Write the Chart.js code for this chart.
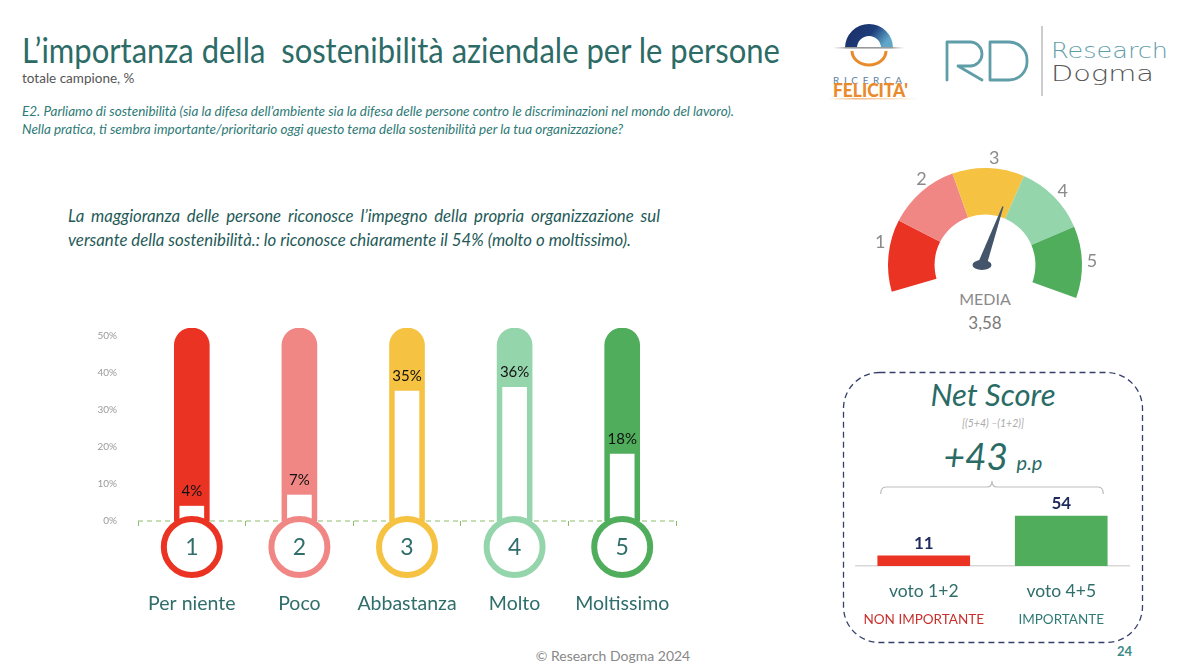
<!DOCTYPE html>
<html lang="it">
<head>
<meta charset="utf-8">
<title>L'importanza della sostenibilità aziendale per le persone</title>
<script src="https://cdn.jsdelivr.net/npm/chart.js@4.4.1/dist/chart.umd.min.js"></script>
<style>
  html, body { margin: 0; padding: 0; background: #fff; }
  body { width: 1200px; height: 670px; position: relative; overflow: hidden; font-family: Lato, 'Open Sans', sans-serif; }
  .t { position: absolute; white-space: nowrap; line-height: 1; }
  .c { text-align: center; }
  canvas { position: absolute; }
  #decor { position: absolute; left: 0; top: 0; }
</style>
</head>
<body>

<svg id="decor" width="1200" height="670" viewBox="0 0 1200 670">
  <defs>
    <linearGradient id="arco" x1="0" y1="0" x2="1" y2="0.4">
      <stop offset="0" stop-color="#1b2a63"/>
      <stop offset="0.6" stop-color="#1d3d7a"/>
      <stop offset="1" stop-color="#5fa6c9"/>
    </linearGradient>
    <linearGradient id="linea" x1="0" y1="0" x2="1" y2="0">
      <stop offset="0" stop-color="#bbb" stop-opacity="0"/>
      <stop offset="0.2" stop-color="#999"/>
      <stop offset="0.8" stop-color="#999"/>
      <stop offset="1" stop-color="#bbb" stop-opacity="0"/>
    </linearGradient>
    <linearGradient id="sotto" x1="0" y1="0" x2="1" y2="0">
      <stop offset="0" stop-color="#e98a2b" stop-opacity="0"/>
      <stop offset="0.3" stop-color="#e98a2b" stop-opacity="0.6"/>
      <stop offset="1" stop-color="#e98a2b" stop-opacity="0"/>
    </linearGradient>
  </defs>
  <!-- logo Ricerca Felicità -->
  <path d="M845,48 A24,24 0 0 1 893,48 L881,48 A12,12 0 0 0 857,48 Z" fill="url(#arco)"/>
  <rect x="833" y="47" width="72" height="1.6" fill="url(#linea)"/>
  <path d="M852,51 A17,14 0 0 0 886,51" fill="none" stroke="#e98a2b" stroke-width="3"/>
  <text x="833" y="84" font-family="Lato" font-size="10" fill="#5b7e9e" textLength="69" lengthAdjust="spacing">RICERCA</text>
  <text x="833" y="97" font-family="Lato" font-weight="900" font-size="18" fill="#e98a2b" textLength="75" lengthAdjust="spacingAndGlyphs">FELICITA'</text>
  <rect x="828" y="98" width="92" height="1.5" fill="url(#sotto)"/>
  <!-- logo Research Dogma -->
  <path d="M947,80 V42 H970 A12,12 0 0 1 982,54 A12,12 0 0 1 970,66 H958 L982,80" fill="none" stroke="#5f9ea8" stroke-width="2.8" stroke-linejoin="round" stroke-linecap="round"/>
  <path d="M990,42 H1009 A18,18 0 0 1 1027,60 V62 A18,18 0 0 1 1009,80 H990 Z" fill="none" stroke="#5f9ea8" stroke-width="2.8" stroke-linejoin="round"/>
  <line x1="1042" y1="26" x2="1042" y2="96" stroke="#9a9a9a" stroke-width="1"/>
  <text x="1051" y="58" font-family="DejaVu Sans" font-weight="200" font-size="22" fill="#5f9ea8" textLength="117" lengthAdjust="spacingAndGlyphs">Research</text>
  <text x="1051" y="81" font-family="DejaVu Sans" font-weight="200" font-size="22" fill="#555" textLength="103" lengthAdjust="spacingAndGlyphs">Dogma</text>
  <!-- riquadro Net Score -->
  <rect x="843.5" y="372.5" width="299" height="270" rx="36" fill="none" stroke="#34406a" stroke-width="1.3" stroke-dasharray="6 4"/>
</svg>

<div class="t" style="left:22px; top:32px; font-size:35px; color:#2d6b67; transform:scaleX(0.885); transform-origin:0 0;">L’importanza della&nbsp; sostenibilità aziendale per le persone</div>
<div class="t" style="left:22px; top:72px; font-size:13.5px; color:#555;">totale campione, %</div>
<div class="t" style="left:22px; top:105px; font-size:13.5px; font-style:italic; color:#2e7a76;">E2. Parliamo di sostenibilità (sia la difesa dell’ambiente sia la difesa delle persone contro le discriminazioni nel mondo del lavoro).</div>
<div class="t" style="left:22px; top:123px; font-size:13.5px; font-style:italic; color:#2e7a76;">Nella pratica, ti sembra importante/prioritario oggi questo tema della sostenibilità per la tua organizzazione?</div>
<div class="t" style="left:68px; top:208px; width:592px; font-size:16.8px; font-style:italic; color:#1f5a58; text-align:justify; text-align-last:justify; white-space:normal;">La maggioranza delle persone riconosce l’impegno della propria organizzazione sul</div>
<div class="t" style="left:68px; top:232px; font-size:16.8px; font-style:italic; color:#1f5a58;">versante della sostenibilità.: lo riconosce chiaramente il 54% (molto o moltissimo).</div>

<div class="t c" style="left:885px; width:200px; top:291px; font-size:16px; color:#8a8a8a;">MEDIA</div>
<div class="t c" id="mediaTxt" style="left:885px; width:200px; top:314px; font-size:17px; color:#7a7a7a;"></div>

<div class="t c" style="left:843px; width:300px; top:379px; font-size:31px; font-style:italic; color:#2a6b66;">Net Score</div>
<div class="t c" style="left:843px; width:300px; top:418px; font-size:10.5px; font-style:italic; color:#aaa;">[(5+4) –(1+2)]</div>
<div class="t c" style="left:843px; width:300px; top:437px; font-size:37px; font-style:italic; color:#2a6b66;"><span id="netTxt"></span> <span style="font-size:20px;">p.p</span></div>

<div class="t c" style="left:463px; width:300px; top:649px; font-size:14px; color:#888;">© Research Dogma 2024</div>
<div class="t" style="left:1117px; top:645px; font-size:13px; font-weight:bold; color:#3b8a86;">24</div>

<canvas id="termometri" width="700" height="340" style="left:0; top:300px; width:700px; height:340px;"></canvas>
<canvas id="gauge" width="240" height="180" style="left:865px; top:143px; width:240px; height:180px;"></canvas>
<canvas id="netScore" width="275" height="174" style="left:855px; top:466px; width:275px; height:174px;"></canvas>

<script>
// dati
const categorie = ['Per niente', 'Poco', 'Abbastanza', 'Molto', 'Moltissimo'];
const voti = ['1', '2', '3', '4', '5'];
const valori = [4, 7, 35, 36, 18];
const tickY = [0, 10, 20, 30, 40, 50];
const colori = ['#ea3323', '#f08784', '#f5c242', '#95d5ac', '#4fad5b'];
const media = 3.58;
const netCategorie = ['voto 1+2', 'voto 4+5'];
const netEtichette = ['NON IMPORTANTE', 'IMPORTANTE'];
const netValori = [11, 54];
const netColori = ['#ea3323', '#4fad5b'];
const netEtichetteColori = ['#c8302c', '#2e7a76'];
const netScore = 43;

const scalaMax = 52;   // tubo del termometro, poco oltre il 50%
const teal = '#2f6e6a';

document.getElementById('mediaTxt').textContent = media.toFixed(2).replace('.', ',');
document.getElementById('netTxt').textContent = '+' + netScore;

// Termometri: linea tratteggiata dello 0, bulbo, numero, etichette
const pluginTermometro = {
  id: 'termometro',
  beforeDatasetsDraw(chart) {
    const { ctx, chartArea } = chart;
    const zero = chart.scales.y.getPixelForValue(0);
    ctx.save();
    ctx.strokeStyle = '#8dbd6b';
    ctx.lineWidth = 1.2;
    ctx.setLineDash([5, 4]);
    ctx.beginPath();
    ctx.moveTo(chartArea.left, zero);
    ctx.lineTo(chartArea.right, zero);
    ctx.stroke();
    ctx.restore();
  },
  afterDraw(chart) {
    const { ctx, scales: { x, y } } = chart;
    const meta = chart.getDatasetMeta(0);
    const zero = y.getPixelForValue(0);
    ctx.save();
    ctx.textAlign = 'center';
    ctx.textBaseline = 'middle';
    valori.forEach((v, i) => {
      const cx = x.getPixelForValue(i);
      const bar = meta.data[i];

      ctx.fillStyle = '#111';
      ctx.font = '15px Lato';
      ctx.fillText(v + '%', cx, bar.y - 15);

      const cy = zero + 26;
      ctx.beginPath();
      ctx.arc(cx, cy, 28, 0, Math.PI * 2);
      ctx.fillStyle = '#fff';
      ctx.fill();
      ctx.lineWidth = 6;
      ctx.strokeStyle = colori[i];
      ctx.stroke();

      ctx.fillStyle = teal;
      ctx.font = '23px Lato';
      ctx.fillText(voti[i], cx, cy + 1);
      ctx.font = '19.5px Lato';
      ctx.fillText(categorie[i], cx, zero + 83);
    });
    ctx.restore();
  }
};

new Chart(document.getElementById('termometri'), {
  type: 'bar',
  data: {
    labels: categorie,
    datasets: [
      {
        label: 'Percentuale',
        data: valori,
        backgroundColor: '#fff',
        barThickness: 24,
        grouped: false,
        order: 1
      },
      {
        label: 'Scala',
        data: valori.map(() => scalaMax),
        backgroundColor: colori,
        barThickness: 35,
        borderRadius: { topLeft: 18, topRight: 18, bottomLeft: 0, bottomRight: 0 },
        borderSkipped: false,
        grouped: false,
        order: 2
      }
    ]
  },
  options: {
    responsive: false,
    animation: false,
    layout: { padding: { top: 28, right: 24, left: 0, bottom: 0 } },
    plugins: { legend: { display: false }, tooltip: { enabled: false } },
    scales: {
      x: {
        grid: { display: true, offset: true, drawOnChartArea: false, drawTicks: true, tickLength: 5, color: '#8dbd6b' },
        border: { display: false },
        ticks: { display: false },
        afterFit: s => { s.height = 119; }
      },
      y: {
        min: 0,
        max: scalaMax,
        grid: { display: false },
        border: { display: false },
        afterBuildTicks: s => { s.ticks = tickY.map(v => ({ value: v })); },
        ticks: { padding: 13, color: '#9a9a9a', font: { size: 10, family: 'Lato' }, callback: v => v + '%' },
        afterFit: s => { s.width = 138; }
      }
    }
  },
  plugins: [pluginTermometro]
});

// Tachimetro
const rotazione = -106;
const ampiezza = 216;
const gradiPerPunto = 34;
const angoloPrimaEtichetta = -78;
const passoEtichette = 41.5;

const pluginLancetta = {
  id: 'lancetta',
  afterDraw(chart) {
    const { ctx } = chart;
    const arc = chart.getDatasetMeta(0).data[0];
    const cx = arc.x, cy = arc.y;
    ctx.save();
    // numeri sulle fasce
    ctx.fillStyle = '#8a8a8a';
    ctx.font = '18px Lato';
    ctx.textAlign = 'center';
    ctx.textBaseline = 'middle';
    voti.forEach((v, i) => {
      const a = (angoloPrimaEtichetta + passoEtichette * i) * Math.PI / 180;
      ctx.fillText(v, cx + 107 * Math.sin(a), cy - 107 * Math.cos(a));
    });
    // lancetta
    const a = (media - 3) * gradiPerPunto * Math.PI / 180;
    ctx.translate(cx - 3, cy);
    ctx.rotate(a);
    ctx.fillStyle = '#44546a';
    ctx.beginPath();
    ctx.moveTo(-4.5, 0);
    ctx.lineTo(-0.6, -62);
    ctx.lineTo(0.6, -62);
    ctx.lineTo(4.5, 0);
    ctx.closePath();
    ctx.fill();
    ctx.rotate(-a);
    ctx.beginPath();
    ctx.ellipse(0, 0, 9.5, 5, 0, 0, Math.PI * 2);
    ctx.fill();
    ctx.restore();
  }
};

new Chart(document.getElementById('gauge'), {
  type: 'doughnut',
  data: {
    labels: voti,
    datasets: [{ data: voti.map(() => 1), backgroundColor: colori, borderWidth: 0 }]
  },
  options: {
    responsive: false,
    animation: false,
    rotation: rotazione,
    circumference: ampiezza,
    radius: 97,
    cutout: '52%',
    plugins: { legend: { display: false }, tooltip: { enabled: false } }
  },
  plugins: [pluginLancetta]
});

// Net Score
const pluginNet = {
  id: 'netLabels',
  afterDraw(chart) {
    const { ctx } = chart;
    const bars = chart.getDatasetMeta(0).data;
    const base = chart.chartArea.bottom;
    ctx.save();
    ctx.textAlign = 'center';
    // graffa sopra le barre
    const l = bars[0].x - bars[0].width / 2 + 3;
    const r = bars[1].x + bars[1].width / 2 - 4;
    const m = (l + r) / 2;
    const yb = 21;
    ctx.strokeStyle = '#bdbdbd';
    ctx.lineWidth = 1.2;
    ctx.beginPath();
    ctx.moveTo(l, yb + 7);
    ctx.quadraticCurveTo(l, yb, l + 5, yb);
    ctx.lineTo(m - 5, yb);
    ctx.quadraticCurveTo(m, yb, m, yb - 6);
    ctx.quadraticCurveTo(m, yb, m + 5, yb);
    ctx.lineTo(r - 5, yb);
    ctx.quadraticCurveTo(r, yb, r, yb + 7);
    ctx.stroke();

    netValori.forEach((v, i) => {
      const b = bars[i];
      ctx.fillStyle = '#1f2a5c';
      ctx.font = 'bold 17px Lato';
      ctx.textBaseline = 'bottom';
      ctx.fillText(v, b.x, b.y - 4);
      ctx.textBaseline = 'middle';
      ctx.fillStyle = teal;
      ctx.font = '17.5px Lato';
      ctx.fillText(netCategorie[i], b.x, base + 25);
      ctx.fillStyle = netEtichetteColori[i];
      ctx.font = '13.5px Lato';
      ctx.fillText(netEtichette[i], b.x, base + 54);
    });
    ctx.restore();
  }
};

new Chart(document.getElementById('netScore'), {
  type: 'bar',
  data: {
    labels: netCategorie,
    datasets: [{ label: 'Net Score', data: netValori, backgroundColor: netColori, barThickness: 92 }]
  },
  options: {
    responsive: false,
    animation: false,
    layout: { padding: 0 },
    plugins: { legend: { display: false }, tooltip: { enabled: false } },
    scales: {
      x: {
        grid: { display: false },
        border: { display: true, color: '#d9d9d9', width: 1.5 },
        ticks: { display: false },
        afterFit: s => { s.height = 74; }
      },
      y: { display: false, min: 0, max: 108 }
    }
  },
  plugins: [pluginNet]
});
</script>
</body>
</html>
